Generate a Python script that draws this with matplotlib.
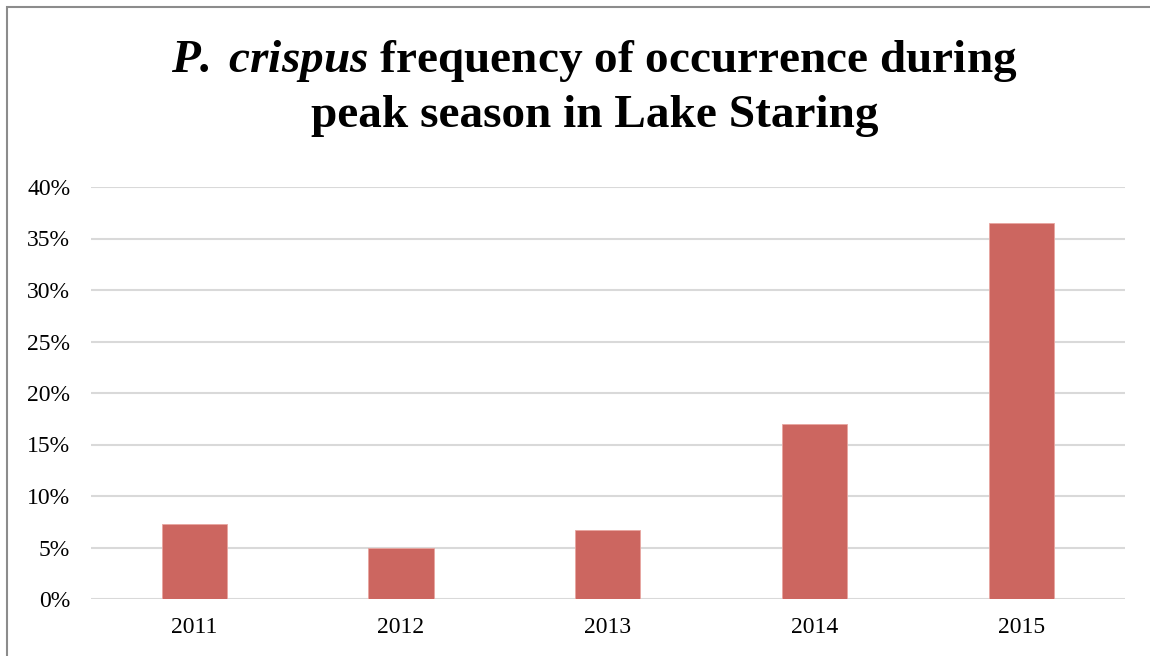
import matplotlib.pyplot as plt
from matplotlib.patches import Rectangle
from matplotlib.ticker import PercentFormatter

years = ["2011", "2012", "2013", "2014", "2015"]
frequency = [7.3, 5.0, 6.7, 17.0, 36.5]
yticks = [0, 5, 10, 15, 20, 25, 30, 35, 40]

plt.rcParams['font.family'] = ['Liberation Serif', 'DejaVu Serif']
plt.rcParams['mathtext.fontset'] = 'custom'
plt.rcParams['mathtext.bfit'] = 'Liberation Serif:italic:bold'
plt.rcParams['mathtext.bf'] = 'Liberation Serif:bold'
plt.rcParams['mathtext.rm'] = 'Liberation Serif'

fig = plt.figure(figsize=(11.5, 6.56), dpi=100)
ax = fig.add_axes([91 / 1150, 1 - 599 / 656, (1124.5 - 91) / 1150, 412 / 656])

ax.bar(range(len(years)), frequency, width=0.315, color='#cc6660',
       edgecolor='#e8a5a0', linewidth=0.6, zorder=3)

ax.set_xlim(-0.5, len(years) - 0.5)
ax.set_ylim(0, 40)
ax.set_yticks(yticks)
ax.yaxis.set_major_formatter(PercentFormatter(decimals=0))
ax.set_xticks(range(len(years)))
ax.set_xticklabels(years)
ax.tick_params(axis='both', length=0, labelsize=17, colors='black')
ax.tick_params(axis='y', pad=15)
ax.tick_params(axis='x', pad=13)
ax.grid(axis='y', color='#d9d9d9', linewidth=1.5, zorder=0)
for side in ['top', 'right', 'left', 'bottom']:
    ax.spines[side].set_visible(False)

fig.text(0.517, 1 - 61 / 656, r"$\mathbfit{P.}\,\mathbfit{crispus}$ frequency of occurrence during",
         ha='center', va='center', fontsize=34, fontweight='bold')
fig.text(0.517, 1 - 116 / 656, "peak season in Lake Staring",
         ha='center', va='center', fontsize=34, fontweight='bold')

# outer chart border
fig.patches.append(Rectangle((7 / 1150, -0.1), 1.2, 1 - 7 / 656 + 0.1,
                             transform=fig.transFigure, fill=False,
                             edgecolor='#8c8c8c', linewidth=1.5))

plt.savefig('out.png')
